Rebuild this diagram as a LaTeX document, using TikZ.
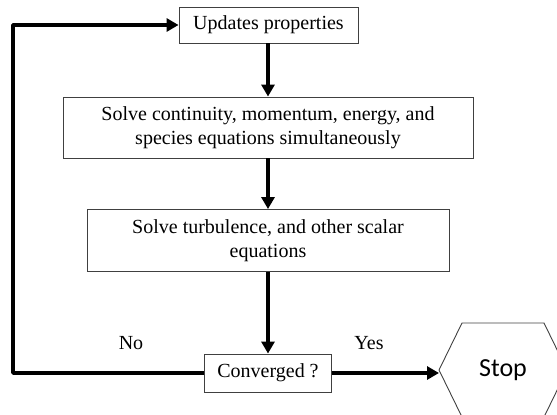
\documentclass[tikz,border=0pt]{standalone}
\usepackage{fontspec}
\setmainfont{Liberation Serif}
\newfontfamily\stopfont{Carlito}
\usetikzlibrary{arrows.meta}
\begin{document}
\begin{tikzpicture}[x=1pt,y=-1pt,
  procbox/.style={draw=black!75,line width=0.9pt,fill=white,align=center,font=\fontsize{20}{24}\selectfont,inner sep=0pt},
  conn/.style={line width=3.5pt,-{Triangle[length=12pt,width=13pt]}},
  lbl/.style={font=\fontsize{20}{24}\selectfont,inner sep=0pt}]
\useasboundingbox (0,0) rectangle (557,415);
\node[procbox,minimum width=179pt,minimum height=36pt] (upd) at (268.5,25) {Updates properties};
\node[procbox,minimum width=410pt,minimum height=61pt] (solve1) at (268,127.5) {Solve continuity, momentum, energy, and\\species equations simultaneously};
\node[procbox,minimum width=362pt,minimum height=62pt] (solve2) at (268,240.5) {Solve turbulence, and other scalar\\equations};
\node[procbox,minimum width=127pt,minimum height=38pt] (conv) at (268,373) {Converged ?};
\node[inner sep=0pt,font=\stopfont\fontsize{26}{30}\selectfont] (stop) at (503,370) {Stop};
\coordinate (hexw) at (439,370);
\draw[black!75,line width=0.9pt] (hexw) -- (462,323) -- (544,323) -- (567,370) -- (544,417) -- (462,417) -- cycle;
\coordinate (fbl) at (13,373);
\node[lbl] (no) at (131,343) {No};
\node[lbl] (yes) at (369,343) {Yes};
\draw[conn] (upd.south -| solve1.north) -- (solve1.north);
\draw[conn] (solve1.south) -- (solve2.north);
\draw[conn] (solve2.south) -- (conv.north);
\draw[conn] (conv.east) -- (conv.east -| hexw);
\draw[conn,line join=round] (conv.west) -- (fbl) |- (upd.west);
\end{tikzpicture}
\end{document}
